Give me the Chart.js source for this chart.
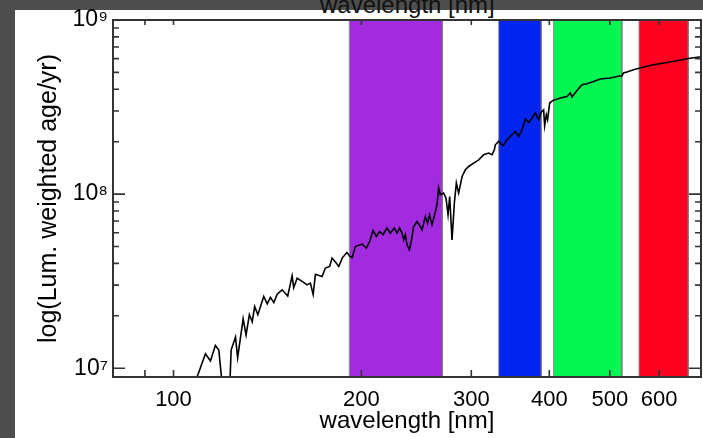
<!DOCTYPE html>
<html><head><meta charset="utf-8">
<script src="https://cdn.jsdelivr.net/npm/chart.js@4/dist/chart.umd.min.js"></script>
<style>
html,body{margin:0;padding:0;}
body{width:703px;height:438px;background:#4e4e4e;position:relative;overflow:hidden;font-family:"Liberation Sans",Arial,sans-serif;}
#paper{position:absolute;left:15px;top:10px;width:688px;height:428px;background:#fff;}
#cut{position:absolute;left:320px;top:-7px;font-size:24px;line-height:24px;color:#111;white-space:nowrap;}
canvas{position:absolute;left:0;top:0;}
</style></head><body>
<div id="paper"></div>
<div id="cut">wavelength [nm]</div>
<canvas id="c" width="703" height="438"></canvas>
<script>
// ---------- data ----------
const wavelengths = [100, 109.1, 112.5, 114.6, 116.7, 118.2, 119.7, 123.1, 123.7, 125.7, 126.7, 129.3, 130.7, 132.3, 133.7, 134.9, 136.5, 139.5, 141.3, 143.0, 144.8, 146.6, 149.3, 152.4, 154.9, 155.8, 157.8, 160.7, 163.7, 165.7, 167.4, 168.8, 173.0, 175.1, 177.9, 179.5, 182.4, 184.0, 186.3, 189.6, 191.6, 193.3, 195.6, 200.5, 203.7, 206.2, 208.8, 211.3, 213.9, 216.6, 219.8, 222.5, 225.8, 228.1, 230.3, 232.4, 233.8, 235.2, 236.7, 238.7, 240.4, 242.5, 245.6, 248.6, 250.1, 253.2, 255.3, 257.2, 259.5, 262.0, 264.3, 265.9, 267.6, 270.9, 273.3, 275.3, 277.0, 279.4, 281.8, 283.9, 286.3, 290.0, 293.5, 297.1, 302.6, 308.3, 314.0, 319.8, 323.9, 326.6, 327.8, 331.8, 337.3, 342.3, 348.6, 352.9, 357.2, 361.7, 366.2, 370.7, 375.3, 379.9, 384.6, 388.0, 391.7, 393.2, 395.6, 397.5, 400.5, 405.5, 416.6, 426.9, 432.2, 434.9, 443.0, 451.2, 459.6, 470.9, 482.7, 500.9, 513.4, 523.0, 526.0, 532.7, 545.8, 566.2, 587.5, 617.2, 640.4, 664.5, 700];
const lumWeightedAge = [5e6, 8.9e6, 1.21e7, 1.10e7, 1.35e7, 1.27e7, 8e6, 8e6, 1.27e7, 1.51e7, 1.15e7, 1.92e7, 1.55e7, 2.03e7, 1.85e7, 2.26e7, 2.03e7, 2.58e7, 2.34e7, 2.55e7, 2.38e7, 2.66e7, 2.82e7, 2.60e7, 3.39e7, 2.90e7, 3.29e7, 3.15e7, 3.01e7, 3.08e7, 2.65e7, 3.46e7, 3.36e7, 3.76e7, 3.84e7, 4.29e7, 4.01e7, 3.84e7, 4.29e7, 4.62e7, 4.40e7, 4.32e7, 5.00e7, 5.16e7, 4.90e7, 5.34e7, 6.18e7, 5.71e7, 6.10e7, 5.84e7, 6.38e7, 5.97e7, 6.38e7, 5.97e7, 6.38e7, 5.97e7, 5.46e7, 5.84e7, 5.11e7, 4.79e7, 5.34e7, 6.51e7, 6.96e7, 6.51e7, 6.23e7, 7.43e7, 6.81e7, 7.60e7, 6.66e7, 7.60e7, 8.68e7, 1.083e8, 9.91e7, 1.013e8, 9.48e7, 7.60e7, 9.69e7, 5.46e7, 8.88e7, 1.157e8, 1.013e8, 1.262e8, 1.379e8, 1.441e8, 1.507e8, 1.574e8, 1.682e8, 1.720e8, 1.682e8, 1.797e8, 1.920e8, 2.006e8, 1.895e8, 2.052e8, 2.192e8, 2.290e8, 2.143e8, 2.342e8, 2.698e8, 2.579e8, 2.734e8, 2.921e8, 2.673e8, 2.944e8, 3.051e8, 2.469e8, 2.856e8, 2.673e8, 3.334e8, 3.451e8, 3.562e8, 3.638e8, 3.806e8, 3.610e8, 3.939e8, 4.249e8, 4.305e8, 4.438e8, 4.581e8, 4.642e8, 4.741e8, 4.785e8, 4.959e8, 5.025e8, 5.181e8, 5.370e8, 5.535e8, 5.705e8, 5.835e8, 5.991e8, 6.15e8];

const bandNames = ['purple band', 'blue band', 'green band', 'red band'];
const bandStart = [191.3, 331.9, 406.3, 557.0];
const bandEnd   = [269.6, 388.3, 522.8, 667.7];

const xRange = [80, 700];
const yRange = [8.9e6, 1e9];
const xTickValues = [100, 200, 300, 400, 500, 600];
const xTickLabels = ['100', '200', '300', '400', '500', '600'];
const xTickMarks  = [90, 100, 200, 300, 400, 500, 600];
const yTickValues = [1e7, 1e8, 1e9];
const yTickLabels = ['10\u2077', '10\u2078', '10\u2079'];
const yMinorMarks = [2e7, 3e7, 4e7, 5e7, 6e7, 7e7, 8e7, 9e7, 2e8, 3e8, 4e8, 5e8, 6e8, 7e8, 8e8, 9e8];
const xTitle = 'wavelength [nm]';
const yTitle = 'log(Lum. weighted age/yr)';

// ---------- styles ----------
const FONT = '"Liberation Sans", Arial, Helvetica, sans-serif';
const bandColors = ['#a22be0', '#0424f0', '#03f552', '#ff0020'];
const AXIS = '#333333';

const spectrum = {
  type: 'line', label: 'age', order: 0,
  data: wavelengths.map((w, i) => ({x: w, y: lumWeightedAge[i]})),
  borderColor: '#000', borderWidth: 1.6, pointRadius: 0, tension: 0, fill: false
};
const bands = bandStart.map((s, i) => ({
  type: 'line', label: bandNames[i], order: 2,
  data: [{x: s, y: yRange[0]}, {x: s, y: yRange[1]}, {x: bandEnd[i], y: yRange[1]}, {x: bandEnd[i], y: yRange[0]}],
  backgroundColor: bandColors[i], borderColor: 'rgba(120,120,120,0.8)', borderWidth: 1,
  fill: 'start', pointRadius: 0, tension: 0
}));

const framePlugin = {
  id: 'frame',
  afterDatasetsDraw(chart) {
    const {ctx, chartArea: a, scales: {x, y}} = chart;
    ctx.save();
    ctx.strokeStyle = AXIS;
    ctx.lineWidth = 1.6;
    ctx.beginPath();
    xTickMarks.forEach(v => {
      const px = x.getPixelForValue(v);
      ctx.moveTo(px, a.bottom); ctx.lineTo(px, a.bottom - 7);
      ctx.moveTo(px, a.top); ctx.lineTo(px, a.top + 5);
    });
    yMinorMarks.forEach(v => {
      const py = y.getPixelForValue(v);
      ctx.moveTo(a.left, py); ctx.lineTo(a.left + 6, py);
      ctx.moveTo(a.right, py); ctx.lineTo(a.right - 6, py);
    });
    yTickValues.forEach(v => {
      const py = y.getPixelForValue(v);
      ctx.moveTo(a.left, py); ctx.lineTo(a.left + 12, py);
      ctx.moveTo(a.right, py); ctx.lineTo(a.right - 12, py);
    });
    ctx.stroke();
    ctx.lineWidth = 2;
    ctx.strokeRect(a.left, a.top, a.right - a.left, a.bottom - a.top);
    ctx.restore();
  }
};

new Chart(document.getElementById('c'), {
  type: 'line',
  data: {datasets: [spectrum, ...bands]},
  options: {
    responsive: false, animation: false,
    layout: {padding: {top: 20, right: 2, left: 0, bottom: 0}},
    plugins: {legend: {display: false}, tooltip: {enabled: false}},
    scales: {
      x: {
        type: 'logarithmic', position: 'bottom', min: xRange[0], max: xRange[1],
        afterBuildTicks: s => { s.ticks = xTickValues.map(v => ({value: v})); },
        afterFit: s => { s.height = 61; },
        grid: {display: false, drawTicks: false}, border: {display: false},
        ticks: {autoSkip: false, maxRotation: 0, padding: 10, color: '#000',
          font: {family: FONT, size: 22}, callback: (v, i) => xTickLabels[i]},
        title: {display: true, text: xTitle, color: '#000', font: {family: FONT, size: 24},
          padding: {top: 0, bottom: 2}}
      },
      y: {
        type: 'logarithmic', position: 'left', min: yRange[0], max: yRange[1],
        afterBuildTicks: s => { s.ticks = yTickValues.map(v => ({value: v})); },
        afterFit: s => { s.width = 113; },
        grid: {display: false, drawTicks: false}, border: {display: false},
        ticks: {autoSkip: false, padding: 5, color: '#000',
          font: {family: FONT, size: 23}, callback: (v, i) => yTickLabels[i]},
        title: {display: true, text: yTitle, color: '#000', font: {family: FONT, size: 25},
          padding: {top: 34, bottom: 0}}
      }
    }
  },
  plugins: [framePlugin]
});
</script></body></html>
